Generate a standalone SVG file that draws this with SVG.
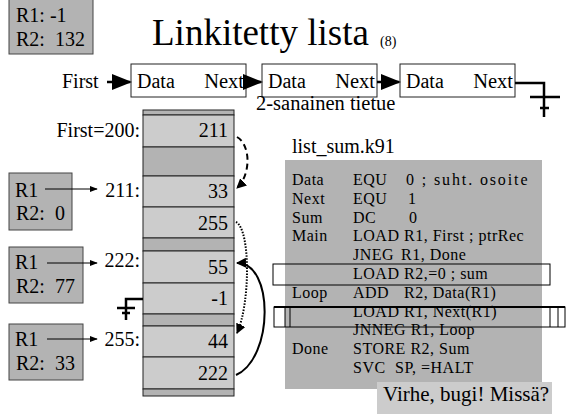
<svg xmlns="http://www.w3.org/2000/svg" width="576" height="414" viewBox="0 0 576 414" font-family="'Liberation Serif', 'Times New Roman', Times, serif">
<defs>
<style>
text{font-family:'Liberation Serif','Times New Roman',Times,serif;fill:#000}
.reg{fill:#b3b3b3;stroke:#444;stroke-width:1}
.cell{fill:#cccccc;stroke:#222;stroke-width:1}
.dark{fill:#b3b3b3;stroke:#222;stroke-width:1}
.lbl{font-size:20px}
.code{font-size:16px;letter-spacing:0.5px}
.box{fill:#fff;stroke:#222;stroke-width:1}
.ln{fill:none;stroke:#000}
</style>
<marker id="ah" viewBox="0 0 10 10" refX="9" refY="5" markerWidth="5" markerHeight="5" orient="auto" markerUnits="strokeWidth"><path d="M0,0 L10,5 L0,10 z" fill="#000"/></marker>
<marker id="ahs" viewBox="0 0 10 10" refX="9" refY="5" markerWidth="8" markerHeight="8" orient="auto" markerUnits="strokeWidth"><path d="M0,1 L10,5 L0,9 z" fill="#000"/></marker>
</defs>

<g id="regs-top">
<rect class="reg" x="9" y="-1" width="84" height="55"/>
<text class="lbl" x="16" y="22">R1: -1</text>
<text class="lbl" x="16" y="46" xml:space="preserve">R2:  132</text>
</g>

<g id="title">
<text x="152" y="45" font-size="37">Linkitetty lista</text>
<text x="380" y="46" font-size="14">(8)</text>
</g>

<g id="list">
<text x="62" y="88" font-size="20">First</text>
<rect class="box" x="131" y="64" width="115" height="33"/>
<text x="137" y="88" font-size="20">Data</text>
<text x="244" y="88" font-size="20.5" text-anchor="end">Next</text>
<rect class="box" x="262" y="64" width="115" height="33"/>
<text x="268" y="88" font-size="20">Data</text>
<text x="375" y="88" font-size="20.5" text-anchor="end">Next</text>
<rect class="box" x="400" y="64" width="115" height="33"/>
<text x="406" y="88" font-size="20">Data</text>
<text x="513" y="88" font-size="20.5" text-anchor="end">Next</text>
<text x="256" y="110" font-size="20.5">2-sanainen tietue</text>
</g>

<g id="memory">
<rect class="dark" x="143" y="110" width="91" height="5"/>
<rect class="cell" x="143" y="115" width="91" height="32"/>
<rect class="dark" x="143" y="147" width="91" height="29"/>
<rect class="cell" x="143" y="176" width="91" height="31"/>
<rect class="cell" x="143" y="207" width="91" height="31"/>
<rect class="dark" x="143" y="238" width="91" height="13"/>
<rect class="cell" x="143" y="251" width="91" height="32"/>
<rect class="cell" x="143" y="283" width="91" height="31"/>
<rect class="dark" x="143" y="314" width="91" height="12"/>
<rect class="cell" x="143" y="326" width="91" height="31"/>
<rect class="cell" x="143" y="357" width="91" height="32"/>
<rect class="dark" x="143" y="389" width="91" height="7"/>
<g class="lbl" text-anchor="end">
<text x="228" y="137">211</text>
<text x="228" y="198">33</text>
<text x="228" y="230">255</text>
<text x="228" y="274">55</text>
<text x="228" y="305">-1</text>
<text x="228" y="348">44</text>
<text x="228" y="380">222</text>
<text x="140" y="137">First=200:</text>
<text x="140" y="197">211:</text>
<text x="140" y="267">222:</text>
<text x="140" y="346">255:</text>
</g>
</g>

<g id="regA">
<rect class="reg" x="9" y="173" width="63" height="57"/>
<text class="lbl" x="15" y="197">R1</text>
<text class="lbl" x="16" y="220" xml:space="preserve">R2:  0</text>
</g>
<g id="regB">
<rect class="reg" x="9" y="247" width="74" height="56"/>
<text class="lbl" x="15" y="269">R1</text>
<text class="lbl" x="16" y="293" xml:space="preserve">R2:  77</text>
</g>
<g id="regC">
<rect class="reg" x="9" y="324" width="74" height="56"/>
<text class="lbl" x="15" y="346">R1</text>
<text class="lbl" x="16" y="370" xml:space="preserve">R2:  33</text>
</g>

<g id="code">
<text x="292" y="153" font-size="20">list_sum.k91</text>
<rect x="285" y="160" width="257" height="229" fill="#b3b3b3"/>
<g class="code" xml:space="preserve">
<text x="292" y="185">Data</text><text x="353" y="185">EQU</text><text x="406" y="185" textLength="122" lengthAdjust="spacing">0 ; suht. osoite</text>
<text x="292" y="204">Next</text><text x="353" y="204">EQU</text><text x="408" y="204">1</text>
<text x="292" y="223">Sum</text><text x="353" y="223">DC</text><text x="409" y="223">0</text>
<text x="292" y="241">Main</text><text x="353" y="241">LOAD</text><text x="404" y="241">R1, First ; ptrRec</text>
<text x="353" y="260">JNEG</text><text x="401" y="260">R1, Done</text>
<text x="353" y="279">LOAD</text><text x="404" y="279">R2,=0  ; sum</text>
<text x="292" y="298">Loop</text><text x="353" y="298">ADD</text><text x="404" y="298">R2, Data(R1)</text>
<text x="353" y="317">LOAD</text><text x="404" y="317">R1, Next(R1)</text>
<text x="353" y="335">JNNEG R1, Loop</text>
<text x="292" y="354">Done</text><text x="353" y="354">STORE R2, Sum</text>
<text x="353" y="373">SVC</text><text x="395" y="373">SP, =HALT</text>
</g>
<rect x="273" y="264" width="277" height="21" fill="none" stroke="#000" stroke-width="1"/>
<rect x="274" y="307" width="291" height="20" fill="none" stroke="#000" stroke-width="1"/>
<line x1="274" y1="307" x2="565" y2="307" stroke="#000" stroke-width="2"/>
<path d="M285,307 V327 M290,307 V327 M550,307 V327 M558,307 V327" stroke="#000" stroke-width="1" fill="none"/>
<rect x="377" y="382" width="175" height="33" fill="#cccccc"/>
<text x="383" y="401" font-size="21">Virhe, bugi! Missä?</text>
</g>

<g id="connectors">
<line class="ln" x1="107" y1="82" x2="130" y2="82" stroke-width="2.5" marker-end="url(#ahs)"/>
<line class="ln" x1="246" y1="82" x2="261" y2="82" stroke-width="2.5" marker-end="url(#ahs)"/>
<line class="ln" x1="377" y1="82" x2="399" y2="82" stroke-width="2.5" marker-end="url(#ahs)"/>
<path class="ln" d="M515,83 H544 V117 M530,97 H560 M540,108 H549" stroke-width="2.5"/>
<path class="ln" d="M143,299 H126 V320 M117,308 H135 M122,313 H130" stroke-width="2.5"/>
<line class="ln" x1="45" y1="189" x2="97" y2="189" stroke-width="1" marker-end="url(#ahs)"/>
<line class="ln" x1="47" y1="263" x2="97" y2="263" stroke-width="1" marker-end="url(#ahs)"/>
<line class="ln" x1="47" y1="339" x2="97" y2="339" stroke-width="1" marker-end="url(#ahs)"/>
<path class="ln" d="M237,137 C251,145 251,175 237,188" stroke-width="2" stroke-dasharray="6,4" marker-end="url(#ah)"/>
<path class="ln" d="M236,222 C251,230 250,305 237,333" stroke-width="2" stroke-dasharray="1.5,1.5" marker-end="url(#ah)"/>
<path class="ln" d="M236,375 C274,358 274,262 237,263" stroke-width="2" marker-end="url(#ah)"/>
</g>
</svg>
